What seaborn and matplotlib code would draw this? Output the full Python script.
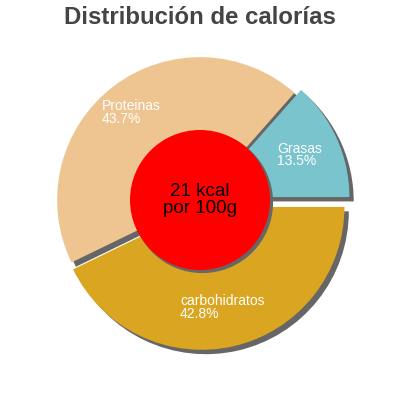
#!/usr/bin/env python3
"""pie chart of calorie distribution with centre label"""
import matplotlib
matplotlib.use("Agg")
import matplotlib.pyplot as plt
from matplotlib.patches import Circle, Shadow
import seaborn as sns

categories = ["Grasas", "Proteinas", "carbohidratos"]
percentages = [13.5, 43.7, 42.8]
colors = ["#7AC5CD", "#EEC591", "#DAA520"]
explode = [0.05, 0.0, 0.05]
centre_text = "21 kcal\npor 100g"
title = "Distribución de calorías"

sns.set_theme(style="white")
plt.rcParams["font.family"] = ["Liberation Sans", "DejaVu Sans"]

fig = plt.figure(figsize=(4, 4), dpi=100)
ax = fig.add_axes([0, 0, 1, 1])

shadow_style = dict(ox=0.022, oy=-0.022, facecolor="#666666",
                    edgecolor="#666666", alpha=1.0)
wedges, _ = ax.pie(percentages, colors=colors, explode=explode,
                   startangle=0, counterclock=True, radius=1.0,
                   shadow=shadow_style,
                   wedgeprops=dict(linewidth=0, edgecolor="none"))

# white labels, left aligned
label_pos = {"Grasas": (0.54, 0.405), "Proteinas": (-0.69, 0.705),
             "carbohidratos": (-0.14, -0.66)}
for cat, pct in zip(categories, percentages):
    x, y = label_pos[cat]
    ax.text(x, y, f"{cat}\n{pct}%", color="white", fontsize=10,
            ha="left", va="top", linespacing=0.85)

# red centre circle with shadow
circ = Circle((0, 0), 0.49, facecolor="red", edgecolor="none", zorder=5)
ax.add_patch(Shadow(circ, 0.012, -0.012, facecolor="#666666",
                    edgecolor="#666666", alpha=1.0, zorder=4))
ax.add_patch(circ)
ax.text(0, 0, centre_text, ha="center", va="center", fontsize=13.5,
        color="black", zorder=6, linespacing=1.0)

ax.set_xlim(-1.4, 1.4)
ax.set_ylim(-1.4, 1.4)
ax.set_aspect("equal")
ax.axis("off")

fig.text(0.5, 0.955, title, ha="center", va="center", fontsize=17.3,
         fontweight="bold", color="#444444")

fig.savefig("out.png", dpi=100)
